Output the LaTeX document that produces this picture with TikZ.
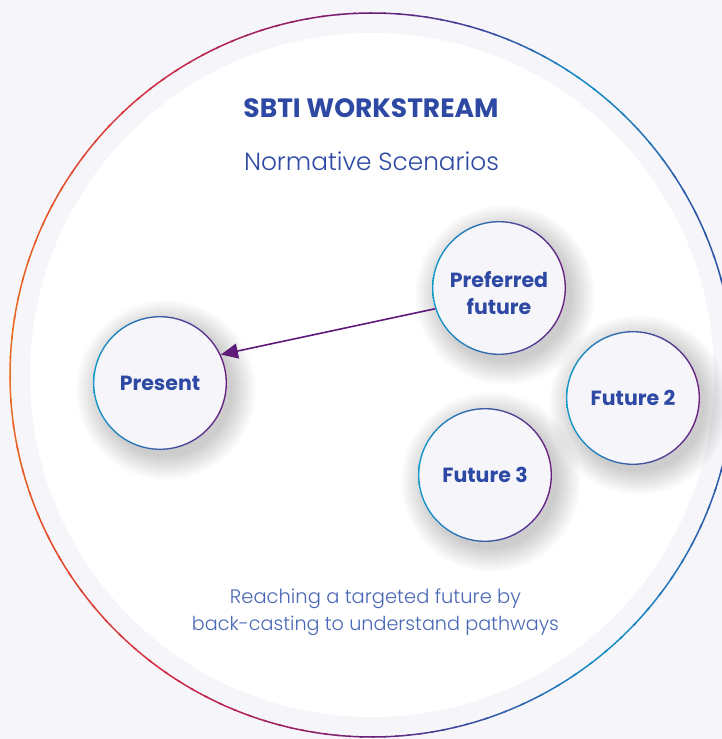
\documentclass[tikz,border=0pt]{standalone}
\usepackage{fontspec}
\setmainfont{Poppins}
\newfontfamily\lightfont{Poppins Light}
\usetikzlibrary{arrows.meta,calc}
\definecolor{bgc}{HTML}{F6F6FA}
\definecolor{titc}{HTML}{2D49A3}
\definecolor{subc}{HTML}{4A68B6}
\definecolor{bubfill}{HTML}{F5F5FA}
\definecolor{bcyan}{HTML}{1298C8}
\definecolor{bblue}{HTML}{2F52A8}
\definecolor{bpurp}{HTML}{6A1F80}
\definecolor{arrc}{HTML}{5E1A78}
\definecolor{shadc}{HTML}{5F6B63}
% ring colours (by visual angle)
\definecolor{rA}{HTML}{EC6F1E}% 180 / -180
\definecolor{rB}{HTML}{E5492B}% -150
\definecolor{rC}{HTML}{D22C45}% -125
\definecolor{rD}{HTML}{A1215E}% -105
\definecolor{rE}{HTML}{6B2078}% -90
\definecolor{rF}{HTML}{3A4DA0}% -75
\definecolor{rG}{HTML}{1592C7}% -50
\definecolor{rH}{HTML}{2B62AE}% -25
\definecolor{rI}{HTML}{2D4FA2}% 0
\definecolor{rJ}{HTML}{2D5AA8}% 30
\definecolor{rK}{HTML}{1590C4}% 55
\definecolor{rL}{HTML}{3B48A0}% 72
\definecolor{rM}{HTML}{6B1C78}% 90
\definecolor{rN}{HTML}{A8205A}% 110
\definecolor{rO}{HTML}{D63140}% 130
\definecolor{rP}{HTML}{E45A28}% 155
\tikzset{
  bub/.style={circle, minimum size=134pt, inner sep=0pt, fill=bubfill,
    font=\bfseries\fontsize{20.5}{27}\selectfont, text=titc, align=center},
  bubtext/.style={inner sep=0pt, font=\bfseries\fontsize{20.5}{27}\selectfont, text=titc, align=center},
  bubring/.style={even odd rule, left color=bcyan, middle color=bblue, right color=bpurp},
  softshadow/.style={fill=shadc, fill opacity=0.013},
  link/.style={draw=arrc, line width=1.6pt, -{Triangle[length=17pt,width=15pt]}},
  ringseg/.style={line width=1.5pt}
}
\begin{document}
\begin{tikzpicture}[x=1pt,y=-1pt]
\useasboundingbox (0,0) rectangle (722,739);
\fill[bgc] (0,0) rectangle (722,739);
\coordinate (C) at (372,375);
\fill[white] (C) circle (342);
% outer gradient ring
\foreach \aa/\ab/\ca/\cb in {-180/-150/rA/rB, -150/-125/rB/rC, -125/-105/rC/rD, -105/-90/rD/rE,
   -90/-75/rE/rF, -75/-50/rF/rG, -50/-25/rG/rH, -25/0/rH/rI, 0/30/rI/rJ, 30/55/rJ/rK,
   55/72/rK/rL, 72/90/rL/rM, 90/110/rM/rN, 110/130/rN/rO, 130/155/rO/rP, 155/180/rP/rA}{
  \foreach \k in {0,...,7}{
    \pgfmathsetmacro\sa{-(\aa+(\ab-\aa)*\k/8)}
    \pgfmathsetmacro\sb{-(\aa+(\ab-\aa)*(\k+1.2)/8)}
    \pgfmathsetmacro\mx{(\k+0.5)*12.5}
    \colorlet{segc}{\cb!\mx!\ca}
    \draw[ringseg, draw=segc] ($(C)+(\sa:362)$) arc[start angle=\sa, end angle=\sb, radius=362];
  }
}
% texts
\node[text=titc, anchor=base, font=\bfseries\fontsize{24}{28}\selectfont] (title) at (371,117) {\resizebox{255pt}{!}{SBTI WORKSTREAM}};
\node[text=titc, anchor=base, font=\lightfont\fontsize{24}{28}\selectfont] (subtitle) at (371.5,170) {\resizebox{255pt}{!}{Normative Scenarios}};
\node[text=subc, anchor=base, font=\lightfont\fontsize{18}{22}\selectfont] (desc1) at (375.5,603) {\resizebox{291pt}{!}{Reaching a targeted future by}};
\node[text=subc, anchor=base, font=\lightfont\fontsize{18}{22}\selectfont] (desc2) at (375.5,630) {\resizebox{367pt}{!}{back-casting to understand pathways}};
% soft shadows
\foreach \px/\py in {160/383, 499/288, 633/398, 485/475}{
  \foreach \r in {66,67,...,90}{
    \fill[softshadow] (\px+6,\py+7) circle (\r);
  }
}
% bubbles
\node[bub] (present) at (160,383) {Present};
\node[bub] (pf) at (499,288) {};
\node[bubtext] (pftext) at (499,293) {Preferred\\future};
\node[bub] (f2) at (633,398) {Future 2};
\node[bub] (f3) at (485,475) {Future 3};
\foreach \n in {present,pf,f2,f3}{
  \shade[bubring] (\n.center) circle (67) (\n.center) circle (65.6);
}
% connector
\draw[link] (pf.198) -- (present.25);
\end{tikzpicture}
\end{document}
